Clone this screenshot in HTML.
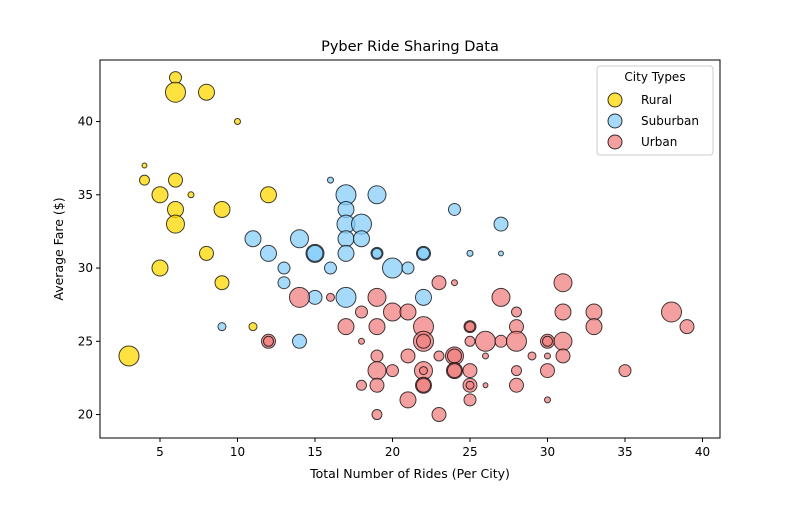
<!DOCTYPE html>
<html><head><meta charset="utf-8"><style>
body{margin:0;background:#fff;font-family:"Liberation Sans","DejaVu Sans",sans-serif}
svg text{font-family:"DejaVu Sans","Liberation Sans",sans-serif}
</style></head><body>
<svg id="chart" width="800" height="500" xmlns="http://www.w3.org/2000/svg">
<rect width="800" height="500" fill="#fff"/>
<text x="410" y="51" font-size="14.5" text-anchor="middle">Pyber Ride Sharing Data</text>
<g id="plot"></g>
<rect x="100" y="60" width="620" height="378" fill="none" stroke="#000" stroke-width="1"/>
<g id="axes"></g>
<text x="410" y="478" font-size="12.5" text-anchor="middle">Total Number of Rides (Per City)</text>
<text transform="translate(63,249) rotate(-90)" font-size="12.5" text-anchor="middle">Average Fare ($)</text>
<g>
<rect x="597" y="66" width="116" height="89" rx="3" fill="#fff" fill-opacity="0.8" stroke="#ccc"/>
<text x="655" y="81" font-size="12" text-anchor="middle">City Types</text>
<circle cx="615" cy="100" r="7" fill="#FFD700" fill-opacity="0.75" stroke="#000" stroke-opacity="0.8"/>
<text x="641" y="104" font-size="12">Rural</text>
<circle cx="615" cy="121" r="7" fill="#87CEFA" fill-opacity="0.75" stroke="#000" stroke-opacity="0.8"/>
<text x="641" y="125" font-size="12">Suburban</text>
<circle cx="615" cy="142" r="7" fill="#F08080" fill-opacity="0.75" stroke="#000" stroke-opacity="0.8"/>
<text x="641" y="146" font-size="12">Urban</text>
</g>
</svg>
<script>
const xTicks=[5,10,15,20,25,30,35,40];
const yTicks=[20,25,30,35,40];
const ruralRides=[6,6,8,10,4,4,6,7,5,12,6,9,6,8,5,9,11,3];
const ruralFare=[43,42,42,40,37,36,36,35,35,35,34,34,33,31,30,29,26,24];
const ruralDrivers=[36,100,64,9,6,25,49,9,64,64,64,64,81,49,64,49,16,100];
const subRides=[16,17,19,17,17,18,24,27,11,14,17,18,15,15,12,17,19,19,22,22,25,27,13,16,20,21,13,9,15,17,22,14];
const subFare=[36,35,35,34,33,33,34,33,32,32,32,32,31,31,31,31,31,31,31,31,31,31,30,30,30,30,29,26,28,28,28,25];
const subDrivers=[9,100,81,64,81,100,36,49,64,81,64,64,81,64,64,64,36,25,49,36,9,6,36,36,100,36,36,16,49,100,64,49];
const urbRides=[14,16,19,23,24,27,18,20,21,28,31,31,33,38,17,19,22,25,25,28,33,39,12,12,18,22,22,25,26,27,28,30,30,31,31,19,21,23,24,24,26,29,30,19,20,22,22,24,24,25,28,30,35,18,19,22,22,25,25,26,28,21,25,30,19,23];
const urbFare=[28,28,28,29,29,28,27,27,27,27,29,27,27,27,26,26,26,26,26,26,26,26,25,25,25,25,25,25,25,25,25,25,25,25,24,24,24,24,24,24,24,24,24,23,23,23,23,23,23,23,23,23,23,22,22,22,22,22,22,22,22,21,21,21,20,20];
const urbDrivers=[100,16,81,49,9,81,36,81,64,25,81,64,64,100,64,64,100,36,25,49,64,49,49,25,9,100,49,25,100,36,100,49,25,81,49,36,49,25,81,49,9,16,9,81,36,81,16,64,49,49,25,49,36,25,49,64,49,49,16,6,49,64,36,9,25,49];

const NS="http://www.w3.org/2000/svg";
const X0=100,X1=720,Y0=438,Y1=60,xmin=1.13,xmax=41.13,ymin=18.4,ymax=44.2;
function xs(v){return X0+(v-xmin)/(xmax-xmin)*(X1-X0);}
function ys(v){return Y0-(v-ymin)/(ymax-ymin)*(Y0-Y1);}
function el(t,a,p){const e=document.createElementNS(NS,t);for(const k in a)e.setAttribute(k,a[k]);p.appendChild(e);return e;}
const axes=document.getElementById('axes');
xTicks.forEach(t=>{const x=xs(t);
 const l=el('line',{x1:x,x2:x,y1:Y0,y2:Y0+4,stroke:'#000'},axes);
 
 
 const s=el('text',{x:x,y:Y0+18,'font-size':12,'text-anchor':'middle'},axes);s.textContent=t;
 
 });
yTicks.forEach(t=>{const y=ys(t);
 const l=el('line',{x1:X0-4,x2:X0,y1:y,y2:y,stroke:'#000'},axes);
 
 
 const s=el('text',{x:X0-7,y:y+4,'font-size':12,'text-anchor':'end'},axes);s.textContent=t;
 
 });
const plot=document.getElementById('plot');
function series(rides,fare,drv,color,name){
 rides.forEach((r,i)=>{
  const c=el('circle',{cx:xs(r),cy:ys(fare[i]),r:Math.sqrt(drv[i]),fill:color,'fill-opacity':0.75,stroke:'#000','stroke-opacity':0.75,'stroke-width':1},plot);
  
  
 });
}
series(ruralRides,ruralFare,ruralDrivers,'#FFD700','rural');
series(subRides,subFare,subDrivers,'#87CEFA','suburban');
series(urbRides,urbFare,urbDrivers,'#F08080','urban');
</script>
</body></html>
